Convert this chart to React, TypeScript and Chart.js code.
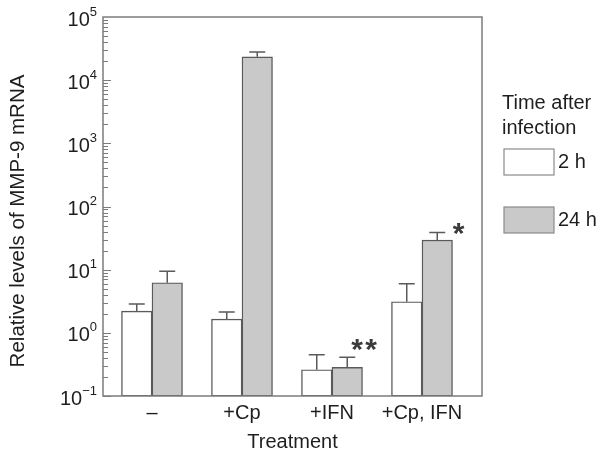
import React, { useEffect, useRef } from "react";
import { Chart, registerables } from "chart.js";

Chart.register(...registerables);

// ---- data ----
const categories = ["–", "+Cp", "+IFN", "+Cp, IFN"];
const seriesLabels = ["2 h", "24 h"];
const values2h = [2.2, 1.65, 0.26, 3.1];
const errTop2h = [2.85, 2.13, 0.45, 6.0];
const values24h = [6.2, 23400, 0.284, 29.4];
const errTop24h = [9.4, 28000, 0.41, 38.9];
const marks24h = ["", "", "**", "*"];
const yTickExponents = [-1, 0, 1, 2, 3, 4, 5];
const yTitle = "Relative levels of MMP-9 mRNA";
const xTitle = "Treatment";
const legendTitle = ["Time after", "infection"];

const FONT = '"Liberation Sans", Arial, Helvetica, sans-serif';
const TEXT = "#1e1e1e";
const AXIS = "#7c7c7c";
const EDGE = "#5a5a5a";
const FILLS = ["#ffffff", "#c9c9c9"];

function drawCentered(ctx: CanvasRenderingContext2D, s: string, cx: number, cy: number) {
  const m = ctx.measureText(s);
  const gx = (m.actualBoundingBoxRight - m.actualBoundingBoxLeft) / 2;
  const gy = (m.actualBoundingBoxDescent - m.actualBoundingBoxAscent) / 2;
  ctx.fillText(s, cx - gx, cy - gy);
}

const drawPlugin = {
  id: "figureDecor",
  afterDatasetsDraw(chart: any) {
    const ctx = chart.ctx;
    const y = chart.scales.y;
    const errs = [errTop2h, errTop24h];
    ctx.save();
    ctx.strokeStyle = EDGE;
    ctx.lineWidth = 1.5;
    [0, 1].forEach((di) => {
      const meta = chart.getDatasetMeta(di);
      meta.data.forEach((bar: any, i: number) => {
        const yt = y.getPixelForValue(errs[di][i]);
        ctx.beginPath();
        ctx.moveTo(bar.x, bar.y);
        ctx.lineTo(bar.x, yt);
        ctx.moveTo(bar.x - 8, yt);
        ctx.lineTo(bar.x + 8, yt);
        ctx.stroke();
      });
    });
    // significance marks
    const meta24 = chart.getDatasetMeta(1);
    ctx.fillStyle = "#3a3a3a";
    ctx.font = `bold 30px ${FONT}`;
    ctx.textAlign = "left";
    ctx.textBaseline = "alphabetic";
    meta24.data.forEach((bar: any, i: number) => {
      const m = marks24h[i];
      if (!m) return;
      const yt = y.getPixelForValue(errTop24h[i]);
      if (m.length > 1) {
        for (let k = 0; k < m.length; k++) {
          drawCentered(ctx, m[k], bar.x + 10 + k * 14, yt - 12);
        }
      } else {
        drawCentered(ctx, m, bar.x + 21.5, yt - 3);
      }
    });
    ctx.restore();
  },
  afterDraw(chart: any) {
    const ctx = chart.ctx;
    const a = chart.chartArea;
    const y = chart.scales.y;
    const x = chart.scales.x;
    ctx.save();
    // frame
    ctx.strokeStyle = AXIS;
    ctx.lineWidth = 1.5;
    ctx.strokeRect(a.left, a.top, a.right - a.left, a.bottom - a.top);
    // inward log ticks
    ctx.lineWidth = 1;
    ctx.beginPath();
    for (let d = -1; d <= 4; d++) {
      for (let m = 1; m <= 9; m++) {
        const v = m * Math.pow(10, d);
        const py = Math.round(y.getPixelForValue(v)) + 0.5;
        const len = m === 1 ? 8 : 5;
        ctx.moveTo(a.left, py);
        ctx.lineTo(a.left + len, py);
      }
    }
    ctx.stroke();
    // y tick labels with superscripts
    ctx.fillStyle = TEXT;
    ctx.textBaseline = "middle";
    yTickExponents.forEach((e) => {
      const py = y.getPixelForValue(Math.pow(10, e));
      const exp = e < 0 ? "\u2212" + Math.abs(e) : String(e);
      ctx.font = `13px ${FONT}`;
      const ew = ctx.measureText(exp).width;
      const right = 97;
      ctx.textAlign = "left";
      ctx.fillText(exp, right - ew, py - 5);
      ctx.font = `20px ${FONT}`;
      ctx.textAlign = "right";
      ctx.fillText("10", right - ew, py + 3);
    });
    // y title
    ctx.save();
    ctx.translate(18, 221);
    ctx.rotate(-Math.PI / 2);
    ctx.font = `20.5px ${FONT}`;
    ctx.textAlign = "center";
    ctx.textBaseline = "middle";
    ctx.fillText(yTitle, 0, 0);
    ctx.restore();
    // x labels
    ctx.font = `20px ${FONT}`;
    ctx.textAlign = "center";
    ctx.textBaseline = "middle";
    categories.forEach((c, i) => {
      ctx.fillText(c, x.getPixelForValue(i), 413);
    });
    ctx.fillText(xTitle, (a.left + a.right) / 2, 442);
    // legend
    ctx.textAlign = "left";
    ctx.fillText(legendTitle[0], 502, 103);
    ctx.fillText(legendTitle[1], 502, 128);
    seriesLabels.forEach((lab, i) => {
      const top = 149 + i * 58;
      ctx.fillStyle = FILLS[i];
      ctx.fillRect(504, top, 50, 26);
      ctx.strokeStyle = "#8a8a8a";
      ctx.lineWidth = 1.2;
      ctx.strokeRect(504, top, 50, 26);
      ctx.fillStyle = TEXT;
      ctx.fillText(lab, 558, top + 13);
    });
    ctx.restore();
  },
};

export default function App() {
  const ref = useRef<HTMLCanvasElement | null>(null);
  useEffect(() => {
    if (!ref.current) return;
    const chart = new Chart(ref.current, {
      type: "bar",
      data: {
        datasets: [
          {
            label: seriesLabels[0],
            data: categories.map((_, i) => ({ x: i, y: values2h[i] })),
            backgroundColor: FILLS[0],
            borderColor: EDGE,
            borderWidth: 1.4,
            borderSkipped: false,
            barThickness: 30.5,
          },
          {
            label: seriesLabels[1],
            data: categories.map((_, i) => ({ x: i, y: values24h[i] })),
            backgroundColor: FILLS[1],
            borderColor: EDGE,
            borderWidth: 1.4,
            borderSkipped: false,
            barThickness: 30.5,
          },
        ],
      } as any,
      options: {
        responsive: false,
        animation: false,
        layout: { padding: { left: 0, right: 119, top: 17, bottom: 0 } },
        plugins: { legend: { display: false }, tooltip: { enabled: false } },
        scales: {
          x: {
            type: "linear",
            min: -0.5444,
            max: 3.6667,
            offset: false,
            grid: { display: false },
            border: { display: false },
            ticks: { display: false },
            afterBuildTicks: (s: any) => {
              s.ticks = categories.map((_, i) => ({ value: i }));
            },
            afterFit: (s: any) => {
              s.height = 54;
            },
          },
          y: {
            type: "logarithmic",
            min: 0.1,
            max: 100000,
            grid: { display: false },
            border: { display: false },
            ticks: { display: false },
            afterFit: (s: any) => {
              s.width = 103;
            },
          },
        },
      } as any,
      plugins: [drawPlugin],
    });
    return () => chart.destroy();
  }, []);
  return (
    <div style={{ position: "absolute", left: 0, top: 0, width: 601, height: 450, background: "#fff" }}>
      <canvas ref={ref} width={601} height={450} style={{ display: "block" }} />
    </div>
  );
}
